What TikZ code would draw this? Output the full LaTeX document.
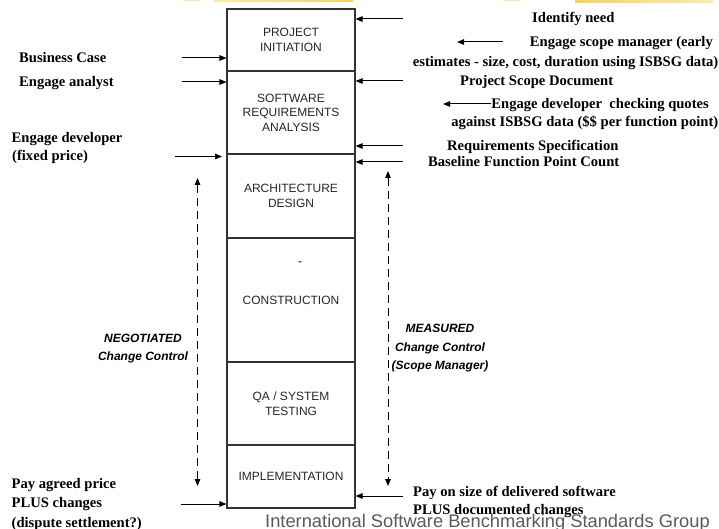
\documentclass[tikz,border=0pt]{standalone}
\usepackage{fontspec}
\setmainfont{Liberation Serif}
\newfontfamily\arialf{Liberation Sans}
\usetikzlibrary{arrows.meta}
\definecolor{yla}{HTML}{FCEBA8}
\definecolor{ylb}{HTML}{F8D35A}
\definecolor{foot}{HTML}{5A5A5A}
\begin{document}
\begin{tikzpicture}[x=1pt,y=-1pt,
 stage/.style={draw=black!80, line width=1.1pt, minimum width=128pt, inner sep=0pt, align=center,
   font=\arialf\fontsize{12}{14.6}\selectfont, text=black!85},
 lbl/.style={inner sep=0pt, anchor=base west, font=\bfseries\fontsize{14.6}{20}\selectfont},
 lble/.style={lbl, anchor=base east},
 ital/.style={inner sep=0pt, align=center, font=\arialf\bfseries\itshape\fontsize{12}{18.5}\selectfont},
 arr/.style={line width=1pt, -{Triangle[length=7pt,width=5.5pt]}},
 darr/.style={line width=0.9pt, dash pattern=on 8pt off 5pt,
   {Triangle[length=7pt,width=5.5pt]}-{Triangle[length=7pt,width=5.5pt]}}]
\useasboundingbox (0,0) rectangle (719,529);

% decorative strip at top
\fill[yla] (183,0) rectangle (200,1.2);
\fill[left color=yla, right color=ylb] (213,0) rectangle (353,2);
\fill[yla] (503,0) rectangle (520,1.2);
\fill[left color=ylb, right color=yla] (575,0) rectangle (713,2.5);

% stages
\node[stage, minimum height=62pt] (pi) at (291,40) {PROJECT\\INITIATION};
\node[stage, minimum height=83pt] (sra) at (291,112.5) {SOFTWARE\\REQUIREMENTS\\ANALYSIS};
\node[stage, minimum height=84pt] (ad) at (291,196) {ARCHITECTURE\\DESIGN};
\node[stage, minimum height=124pt] (con) at (291,300) {CONSTRUCTION};
\node[stage, minimum height=83pt] (qa) at (291,403.5) {QA / SYSTEM\\TESTING};
\node[stage, minimum height=63pt] (imp) at (291,476.5) {IMPLEMENTATION};
\node[inner sep=0pt, font=\arialf\fontsize{12}{14}\selectfont] (dash) at (300,264) {-};

% left labels
\node[lbl] (bc) at (19,63) {Business Case};
\node[lbl] (ea) at (19,87) {Engage analyst};
\node[lbl] (ed1) at (11.5,143) {Engage developer};
\node[lbl] (ed2) at (12,161) {(fixed price)};
\node[lbl] (pa1) at (11.5,488) {Pay agreed price};
\node[lbl] (pa2) at (11.5,507) {PLUS changes};
\node[lbl] (pa3) at (11.5,527) {(dispute settlement?)};

% right labels
\node[lbl] (idn) at (532,23) {Identify need};
\node[lble] (esm1) at (713,47) {Engage scope manager (early};
\node[lble] (esm2) at (718.5,67) {estimates - size, cost, duration using ISBSG data)};
\node[lbl] (psd) at (460,86) {Project Scope Document};
\node[lble] (edc1) at (709,109) {Engage developer~ checking quotes};
\node[lble] (edc2) at (718.5,127) {against ISBSG data (\$\$ per function point)};
\node[lbl] (rs) at (447,151) {Requirements Specification};
\node[lbl] (bfp) at (428,167) {Baseline Function Point Count};
\node[lbl] (ps1) at (413,496) {Pay on size of delivered software};
\node[lbl] (ps2) at (413,514) {PLUS documented changes};

% change control labels
\node[ital] (neg) at (143,348.5) {NEGOTIATED\\Change Control};
\node[ital] (meas) at (440,348.5) {MEASURED\\Change Control\\(Scope Manager)};

% footer
\node[inner sep=0pt, anchor=base west, text=foot, font=\arialf\fontsize{18.3}{20}\selectfont] (isbsg) at (265,527.5)
  {International Software Benchmarking Standards Group};

% left arrows
\coordinate (lbc) at (182,58);
\coordinate (lea) at (182,82);
\coordinate (led) at (175,156.5);
\coordinate (ledE) at (222,156.5);
\coordinate (lpa) at (181,504);
\draw[arr] (lbc) -- (lbc -| pi.west);
\draw[arr] (lea) -- (lea -| sra.west);
\draw[arr] (led) -- (ledE);
\draw[arr] (lpa) -- (lpa -| imp.west);

% right arrows
\coordinate (ridn) at (403,19);
\coordinate (rpsd) at (403,81);
\coordinate (rrs) at (403,146);
\coordinate (rbfp) at (403,162);
\coordinate (rps) at (403,496);
\draw[arr] (ridn) -- (ridn -| pi.east);
\draw[arr] (rpsd) -- (rpsd -| sra.east);
\draw[arr] (rrs) -- (rrs -| sra.east);
\draw[arr] (rbfp) -- (rbfp -| ad.east);
\draw[arr] (rps) -- (rps -| imp.east);
\coordinate (fesmS) at (503,42);
\coordinate (fesmE) at (457,42);
\draw[arr] (fesmS) -- (fesmE);
\coordinate (fedcS) at (491,104);
\coordinate (fedcE) at (443,104);
\draw[arr] (fedcS) -- (fedcE);

% dashed change-control arrows
\coordinate (nTop) at (197.5,178);
\coordinate (nBot) at (197.5,486);
\coordinate (mTop) at (388,171);
\coordinate (mBot) at (388,486);
\draw[darr] (nTop) -- (nBot);
\draw[darr] (mTop) -- (mBot);
\end{tikzpicture}
\end{document}
